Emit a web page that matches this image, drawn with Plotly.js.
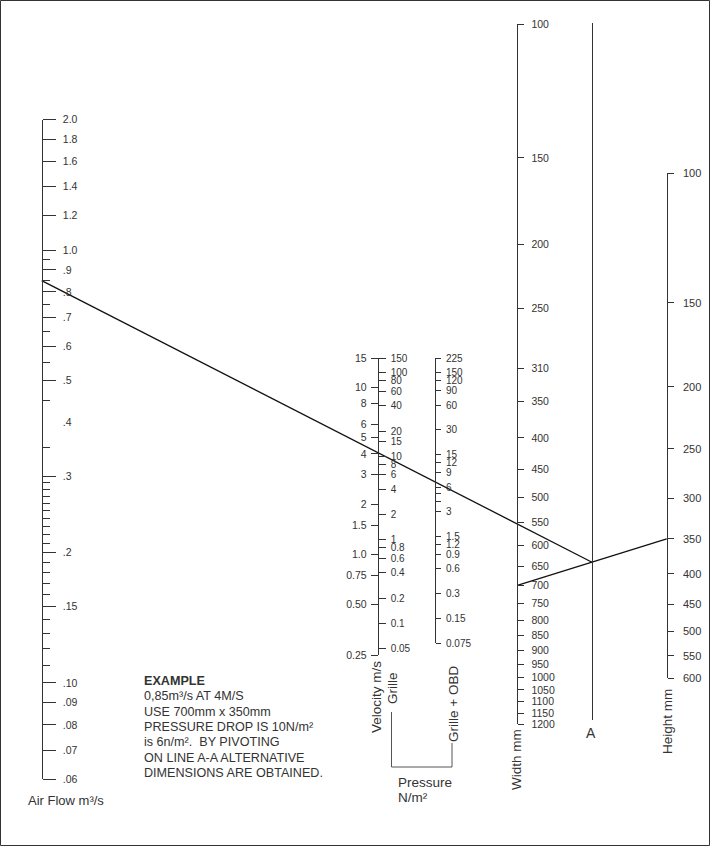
<!DOCTYPE html>
<html>
<head>
<meta charset="utf-8">
<script src="https://cdn.plot.ly/plotly-3.0.1.min.js"></script>
<style>html,body{margin:0;padding:0;background:#fff;}#chart{width:710px;height:846px;}</style>
</head>
<body>
<div id="chart"></div>
<script>
// ---------------- DATA ----------------
const flowTicks   = [2.0, 1.8, 1.6, 1.4, 1.2, 1.0, 0.9, 0.8, 0.7, 0.6, 0.5, 0.3, 0.2, 0.15, 0.10, 0.09, 0.08, 0.07, 0.06];
const flowLabels  = ['2.0','1.8','1.6','1.4','1.2','1.0','.9','.8','.7','.6','.5','.3','.2','.15','.10','.09','.08','.07','.06'];
const flowLabelOnly     = [0.4];
const flowLabelOnlyText = ['.4'];
const flowMinor   = [0.95, 0.85, 0.75, 0.65, 0.55, 0.45, 0.35,
                     0.29, 0.28, 0.27, 0.26, 0.25, 0.24, 0.23, 0.22, 0.21,
                     0.19, 0.18, 0.17, 0.16, 0.14, 0.13, 0.12, 0.11];

const velocityTicks  = [15, 10, 8, 6, 5, 4, 3, 2, 1.5, 1.0, 0.75, 0.5, 0.25];
const velocityLabels = ['15','10','8','6','5','4','3','2','1.5','1.0','0.75','0.50','0.25'];

const grilleTicks  = [150, 100, 80, 60, 40, 20, 15, 10, 8, 6, 4, 2, 1, 0.8, 0.6, 0.4, 0.2, 0.1, 0.05];
const grilleLabels = ['150','100','80','60','40','20','15','10','8','6','4','2','1','0.8','0.6','0.4','0.2','0.1','0.05'];

const obdTicks  = [225, 150, 120, 90, 60, 30, 15, 12, 9, 6, 3, 1.5, 1.2, 0.9, 0.6, 0.3, 0.15, 0.075];
const obdLabels = ['225','150','120','90','60','30','15','12','9','6','3','1.5','1.2','0.9','0.6','0.3','0.15','0.075'];
const obdMinor  = [5, 4];

const widthTicks  = [100, 150, 200, 250, 310, 350, 400, 450, 500, 550, 600, 650, 700, 750, 800, 850, 900, 950, 1000, 1050, 1100, 1150, 1200];
const heightTicks = [100, 150, 200, 250, 300, 350, 400, 450, 500, 550, 600];

// worked example
const exampleFlow = 0.85;     // m3/s
const exampleWidth = 700;     // mm
const exampleHeight = 350;    // mm
const exampleText = ['<b>EXAMPLE</b>', '0,85m³/s AT 4M/S', 'USE 700mm x 350mm',
  'PRESSURE DROP IS 10N/m²', 'is 6n/m².\u00a0 BY PIVOTING', 'ON LINE A-A ALTERNATIVE', 'DIMENSIONS ARE OBTAINED.'];

// ---------------- LAYOUT (placement of the scales, in page pixels) ----------------
const W = 710, H = 846;
const FONT = 'Liberation Sans, Arial, Helvetica, sans-serif';
const INK = '#333';
const grilleFactor = 2 / 3;   // grille pressure = 2/3 v^2 on the shared velocity line
const frameMm = 30;           // width / height scales are logarithmic in (size - frame)
const S = {
  flow:     {x: 41.7,  top: 119.7, bottom: 779, min: 0.06, max: 2.0,  rev: false, shift: 0},
  velocity: {x: 377.7, top: 358,   bottom: 655, min: 0.25, max: 15,   rev: false, shift: 0},
  obd:      {x: 435,   top: 358,   bottom: 643, min: 0.075, max: 225, rev: false, shift: 0},
  width:    {x: 517.3, top: 24,    bottom: 724, min: 100, max: 1200,  rev: true, shift: frameMm},
  pivot:    {x: 592,   top: 23,    bottom: 720, min: 1, max: 10,      rev: false, shift: 0},
  height:   {x: 666.7, top: 173,   bottom: 678, min: 100, max: 600,   rev: true, shift: frameMm}
};
S.grille = {x: S.velocity.x, top: S.velocity.top, bottom: S.velocity.bottom, rev: false, shift: 0,
  min: grilleFactor * S.velocity.min * S.velocity.min, max: grilleFactor * S.velocity.max * S.velocity.max};

const L10 = Math.log10;
function u(s, v) { return L10(v - s.shift); }
function ypx(s, v) {   // same mapping Plotly applies on each axis
  const f = (u(s, v) - u(s, s.min)) / (u(s, s.max) - u(s, s.min));
  return s.rev ? s.top + f * (s.bottom - s.top) : s.bottom - f * (s.bottom - s.top);
}

function axis(s, extra) {
  const shifted = s.shift !== 0;
  const lo = shifted ? u(s, s.min) : L10(s.min), hi = shifted ? u(s, s.max) : L10(s.max);
  const a = Object.assign({
    type: shifted ? 'linear' : 'log', domain: [1 - s.bottom / H, 1 - s.top / H],
    range: s.rev ? [hi, lo] : [lo, hi],
    autorange: false, anchor: 'free', position: s.x / W,
    showline: true, linecolor: INK, linewidth: 1,
    ticks: 'outside', tickcolor: INK, tickwidth: 1, showgrid: false, zeroline: false,
    tickmode: 'array', tickfont: {family: FONT, size: 11, color: INK}, fixedrange: true
  }, extra);
  if (shifted && a.tickvals) a.tickvals = a.tickvals.map(function (v) { return u(s, v); });
  return a;
}
function tf(size) { return {family: FONT, size: size, color: INK}; }

const layout = {
  width: W, height: H, autosize: false,
  margin: {l: 0, r: 0, t: 0, b: 0, pad: 0},
  paper_bgcolor: '#fff', plot_bgcolor: 'rgba(0,0,0,0)',
  showlegend: false,
  xaxis: {range: [0, W], domain: [0, 1], visible: false, fixedrange: true, anchor: 'y'},
  yaxis: {range: [H, 0], domain: [0, 1], visible: false, fixedrange: true, anchor: 'x'},
  yaxis2: axis(S.flow, {side: 'right', tickvals: flowTicks, ticktext: flowLabels, ticklen: 13, ticklabelstandoff: 5, tickfont: tf(10.5),
    minor: {tickmode: 'array', tickvals: flowMinor, ticklen: 7, tickcolor: INK, tickwidth: 1, ticks: 'outside', showgrid: false}}),
  yaxis3: axis(S.flow, {side: 'right', showline: false, tickvals: flowLabelOnly, ticktext: flowLabelOnlyText,
    ticklen: 13, tickcolor: 'rgba(0,0,0,0)', ticklabelstandoff: 5, tickfont: tf(10.5)}),
  yaxis4: axis(S.velocity, {side: 'left', tickvals: velocityTicks, ticktext: velocityLabels, ticklen: 7, ticklabelstandoff: 2, tickfont: tf(10.5)}),
  yaxis5: axis(S.grille, {side: 'right', tickvals: grilleTicks, ticktext: grilleLabels, ticklen: 7, ticklabelstandoff: 3, tickfont: tf(10)}),
  yaxis6: axis(S.obd, {side: 'right', tickvals: obdTicks, ticktext: obdLabels, ticklen: 5, ticklabelstandoff: 3, tickfont: tf(10),
    minor: {tickmode: 'array', tickvals: obdMinor, ticklen: 5, tickcolor: INK, tickwidth: 1, ticks: 'outside', showgrid: false}}),
  yaxis7: axis(S.width, {side: 'right', tickvals: widthTicks, ticktext: widthTicks.map(String), ticklen: 6, ticklabelstandoff: 5, tickfont: tf(10.5)}),
  yaxis8: axis(S.pivot, {side: 'right', ticks: '', showticklabels: false, tickvals: []}),
  yaxis9: axis(S.height, {side: 'right', tickvals: heightTicks, ticktext: heightTicks.map(String), ticklen: 6, ticklabelstandoff: 7, tickfont: tf(11)}),
  shapes: [
    {type: 'rect', xref: 'x', yref: 'y', x0: 0.5, x1: W - 0.5, y0: 0.5, y1: H - 0.5, line: {color: INK, width: 1}},
    {type: 'path', xref: 'x', yref: 'y', path: 'M 391.5 712 L 391.5 767 L 452 767 L 452 743', line: {color: '#555', width: 1}}
  ],
  annotations: []
};

function note(text, x, y, opts) {
  layout.annotations.push(Object.assign({text: text, x: x, y: y, xref: 'x', yref: 'y', showarrow: false,
    xanchor: 'center', yanchor: 'middle', font: tf(13.5)}, opts));
}
note('Air Flow m³/s', 66, 800, {font: tf(13)});
note('Velocity m/s', 376, 697, {textangle: -90});
note('Grille', 392, 688, {textangle: -90});
note('Grille + OBD', 453, 704, {textangle: -90});
note('Pressure', 396, 782, {xanchor: 'left'});
note('N/m²', 396, 797, {xanchor: 'left'});
note('Width mm', 516, 760, {textangle: -90});
note('A', 591, 733, {font: tf(14)});
note('Height mm', 667, 722, {textangle: -90});
exampleText.forEach(function (line, i) {
  note(line, 142, 681 + i * 15.35, {xanchor: 'left', font: tf(12.6)});
});

// ---------------- TRACES ----------------
const traces = [];
['y2','y3','y4','y5','y6','y7','y8','y9'].forEach(function (id) {
  traces.push({type: 'scatter', mode: 'lines', x: [], y: [], xaxis: 'x', yaxis: id, hoverinfo: 'skip', showlegend: false});
});

// example: width -> height line, and flow line meeting it on the pivot line A
const wY = ypx(S.width, exampleWidth), hY = ypx(S.height, exampleHeight);
const tA = (S.pivot.x - S.width.x) / (S.height.x - S.width.x);
const aY = wY + tA * (hY - wY);
const fY = ypx(S.flow, exampleFlow);
traces.push({type: 'scatter', mode: 'lines', xaxis: 'x', yaxis: 'y', hoverinfo: 'skip',
  x: [S.flow.x, S.pivot.x], y: [fY, aY], line: {color: '#111', width: 1.3}});
traces.push({type: 'scatter', mode: 'lines', xaxis: 'x', yaxis: 'y', hoverinfo: 'skip',
  x: [S.width.x, S.height.x], y: [wY, hY], line: {color: '#111', width: 1.3}});

Plotly.newPlot('chart', traces, layout, {staticPlot: true, displayModeBar: false});
</script>
</body>
</html>
